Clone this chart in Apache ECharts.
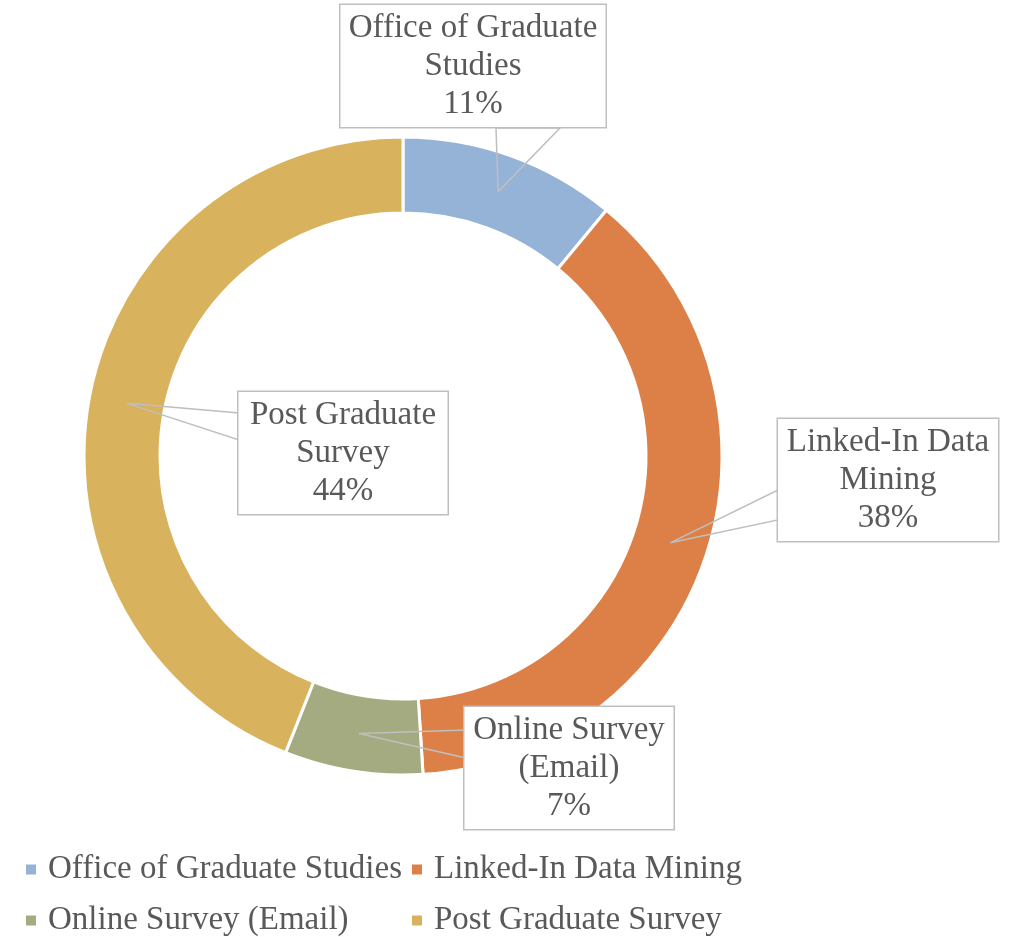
<!DOCTYPE html>
<html>
<head>
<meta charset="utf-8">
<script src="https://cdn.jsdelivr.net/npm/echarts@6/dist/echarts.min.js"></script>
<style>
  html, body { margin: 0; padding: 0; background: #fff; }
  #main { width: 1013px; height: 937px; }
</style>
</head>
<body>
<div id="main"></div>
<script>
// data
var categories = ['Office of Graduate Studies', 'Linked-In Data Mining', 'Online Survey (Email)', 'Post Graduate Survey'];
var labelNames = ['Office of Graduate\nStudies', 'Linked-In Data\nMining', 'Online Survey\n(Email)', 'Post Graduate\nSurvey'];
var shares = [11, 38, 7, 44];
var colors = ['#95B3D7', '#DD8047', '#A5AB81', '#D8B25C'];

// geometry of the ring
var cx = 403, cy = 456, rIn = 243, rOut = 319;
var rMid = (rIn + rOut) / 2;

// callout boxes: centre, width, and where the pointer meets the box
var boxes = [
    {x: 473, y: 66, w: 249, base: [[496, 128], [560, 128]]},
    {x: 888, y: 480, w: 204, base: [[778, 490], [778, 520]]},
    {x: 569, y: 768, w: 193, base: [[466, 730], [466, 758]]},
    {x: 343, y: 453, w: 193, base: [[239, 413], [239, 440]]}
];

// legend slots (left, top), one per category
var legendSlots = [[19, 848], [405, 848], [19, 899], [405, 899]];

var total = shares.reduce(function (a, b) { return a + b; }, 0);

function tipPoint(idx) {
    var before = 0;
    for (var i = 0; i < idx; i++) before += shares[i];
    var mid = (before + shares[idx] / 2) / total * Math.PI * 2;
    return [cx + rMid * Math.sin(mid), cy - rMid * Math.cos(mid)];
}

var font = '"Liberation Serif", "DejaVu Serif", serif';

var chart = echarts.init(document.getElementById('main'));

var ringData = [];
var calloutData = [];
for (var i = 0; i < categories.length; i++) {
    ringData.push({name: categories[i], value: shares[i], itemStyle: {color: colors[i]}});
    calloutData.push({name: categories[i], value: shares[i], label: {width: boxes[i].w}});
}

var legends = [];
for (var j = 0; j < categories.length; j++) {
    legends.push({
        left: legendSlots[j][0], top: legendSlots[j][1],
        icon: 'rect', itemWidth: 12, itemHeight: 12,
        textStyle: {fontFamily: font, fontSize: 33, color: '#595959', padding: [0, 0, 0, 6]},
        data: [categories[j]]
    });
}

var option = {
    animation: false,
    legend: legends,
    series: [{
        // the coloured ring
        type: 'pie',
        z: 2,
        center: [cx, cy],
        radius: [rIn, rOut],
        startAngle: 90,
        clockwise: true,
        itemStyle: {borderColor: '#fff', borderWidth: 3},
        label: {show: false},
        labelLine: {show: false},
        emphasis: {disabled: true},
        data: ringData
    }, {
        // same ring, transparent, only to carry the callouts above it
        type: 'pie',
        z: 3,
        silent: true,
        legendHoverLink: false,
        center: [cx, cy],
        radius: [rIn, rOut],
        startAngle: 90,
        clockwise: true,
        avoidLabelOverlap: false,
        itemStyle: {color: 'rgba(0,0,0,0)'},
        label: {
            show: true,
            position: 'outside',
            formatter: function (p) { return labelNames[p.dataIndex] + '\n' + p.percent + '%'; },
            fontFamily: font,
            fontSize: 33,
            lineHeight: 38,
            color: '#595959',
            align: 'center',
            overflow: 'none',
            backgroundColor: '#fff',
            borderColor: '#BFBFBF',
            borderWidth: 1.5,
            padding: [3, 8, 5, 8]
        },
        labelLine: {
            show: true,
            minTurnAngle: 0,
            maxSurfaceAngle: 180,
            lineStyle: {color: '#BFBFBF', width: 1.5}
        },
        labelLayout: function (params) {
            var b = boxes[params.dataIndex];
            var tip = tipPoint(params.dataIndex);
            return {
                x: b.x,
                y: b.y,
                align: 'center',
                verticalAlign: 'middle',
                labelLinePoints: [tip, b.base[0], b.base[1], tip]
            };
        },
        emphasis: {disabled: true},
        data: calloutData
    }]
};

chart.setOption(option);
</script>
</body>
</html>
